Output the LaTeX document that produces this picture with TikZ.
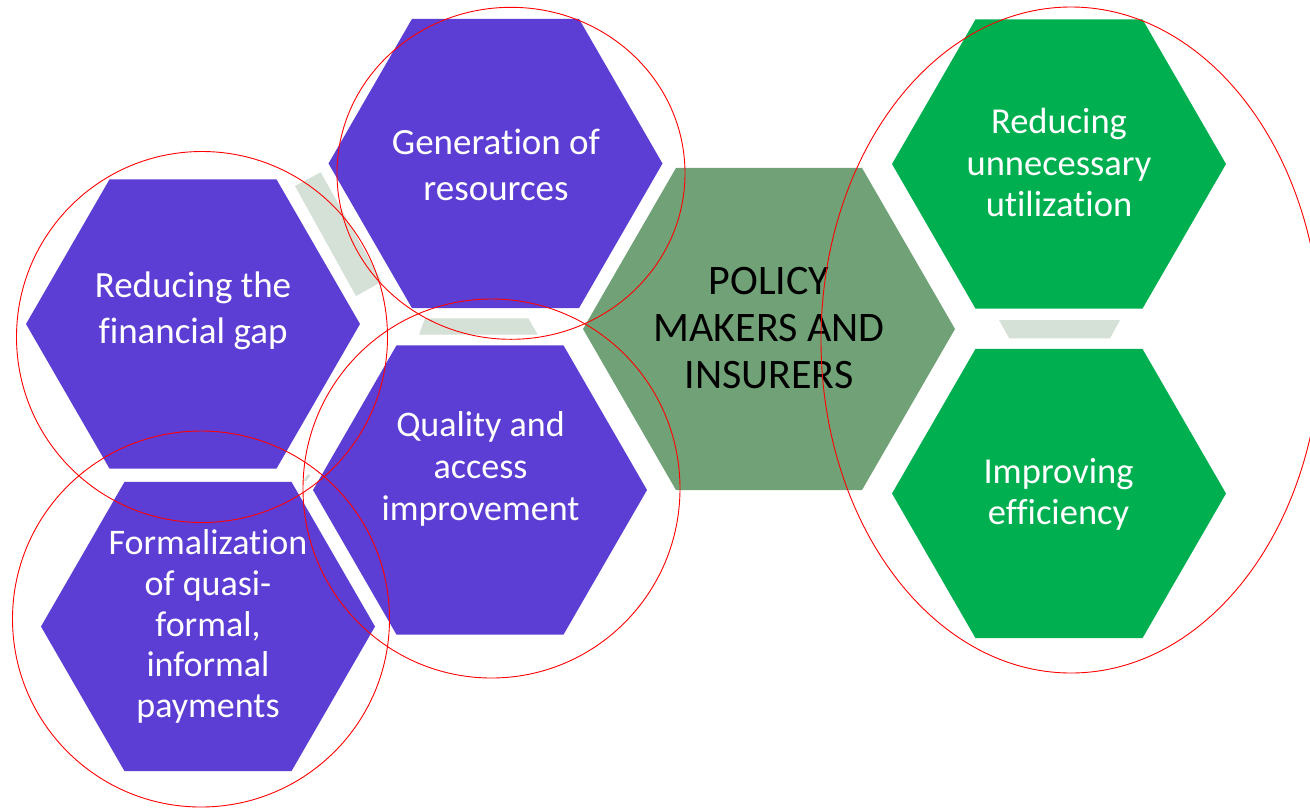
\documentclass[tikz,border=0pt]{standalone}
\usepackage{fontspec}
\setmainfont{Carlito}[Ligatures={NoCommon,NoContextual}]
\usetikzlibrary{shapes.geometric}
\definecolor{hexpurple}{RGB}{93,62,213}
\definecolor{hexsage}{RGB}{113,162,119}
\definecolor{hexgreen}{RGB}{0,176,80}
\definecolor{linkgrey}{RGB}{213,224,215}
\definecolor{ringred}{RGB}{255,0,0}
\begin{document}
\begin{tikzpicture}[x=1pt,y=-1pt,
  hexagon/.style={regular polygon, regular polygon sides=6, minimum size=#1,
    inner sep=0pt, outer sep=0pt, draw=none},
  hexagon/.default=334pt,
  link/.style={fill=linkgrey, draw=none},
  lbl/.style n args={2}{text=white, align=center, inner sep=0pt,
    font=\fontsize{#1}{#2}\selectfont},
  ring/.style={draw=ringred, line width=0.9pt},
]
% canvas
\fill[white] (0,0) rectangle (1310,807);
\useasboundingbox (0,0) rectangle (1310,807);
\clip (0,0) rectangle (1310,807);

% grey links lying in the gaps between cells
\fill[link] (295,186) -- (320.7,172.3) -- (381.7,281.7) -- (356,296) -- cycle;
\fill[link] (425,318.3) -- (528.3,318.3) -- (537.7,334.7) -- (419,334.7) -- cycle;
\fill[link] (999,320) -- (1120,320) -- (1110,338.3) -- (1009.3,338.3) -- cycle;
\fill[link] (303,481) -- (308,474) -- (310.5,475.5) -- (306,481.5) -- cycle;

% hexagonal cells
\node[hexagon, fill=hexpurple] (gen)  at (495.5,163.5) {};
\node[hexagon, fill=hexpurple] (gap)  at (193,324) {};
\node[hexagon, fill=hexpurple] (qual) at (480,490) {};
\node[hexagon, fill=hexpurple] (form) at (208,626.5) {};
\node[hexagon=372pt, fill=hexsage] (core) at (769,329) {};
\node[hexagon, fill=hexgreen] (unn)  at (1059,164) {};
\node[hexagon, fill=hexgreen] (eff)  at (1059,493.5) {};

% cell texts
\node[lbl={37}{46}] (gen-t) at (496,167.8)
  {\strut Generation of\\\strut resources};
\node[lbl={37}{46}] (gap-t) at (193,311)
  {\strut Reducing the\\\strut financial gap};
\node[lbl={36}{41.7}] (qual-t) at (480.5,470)
  {\strut Quality and\\\strut access\\\strut improvement};
\node[lbl={36}{40.7}] (form-t) at (208,628)
  {\strut Formalization\\\strut of quasi-\\\strut formal,\\\strut informal\\\strut payments};
\node[lbl={42}{47.2}, text=black] (core-t) at (769,332)
  {\strut POLICY\\\strut MAKERS AND\\\strut INSURERS};
\node[lbl={36.5}{41.3}] (unn-t) at (1059,167)
  {\strut Reducing\\\strut unnecessary\\\strut utilization};
\node[lbl={36.5}{40.7}] (eff-t) at (1058.5,495.5)
  {\strut Improving\\\strut efficiency};

% red outline rings
\draw[ring] (511,173.3) ellipse [x radius=174pt, y radius=166pt];
\draw[ring] (202,337) circle [radius=185.5pt];
\draw[ring] (201,619) ellipse [x radius=188.5pt, y radius=188pt];
\draw[ring] (491.5,488.5) ellipse [x radius=188.5pt, y radius=189.5pt];
\draw[ring] (1071,340) ellipse [x radius=250pt, y radius=333pt];
\end{tikzpicture}
\end{document}
